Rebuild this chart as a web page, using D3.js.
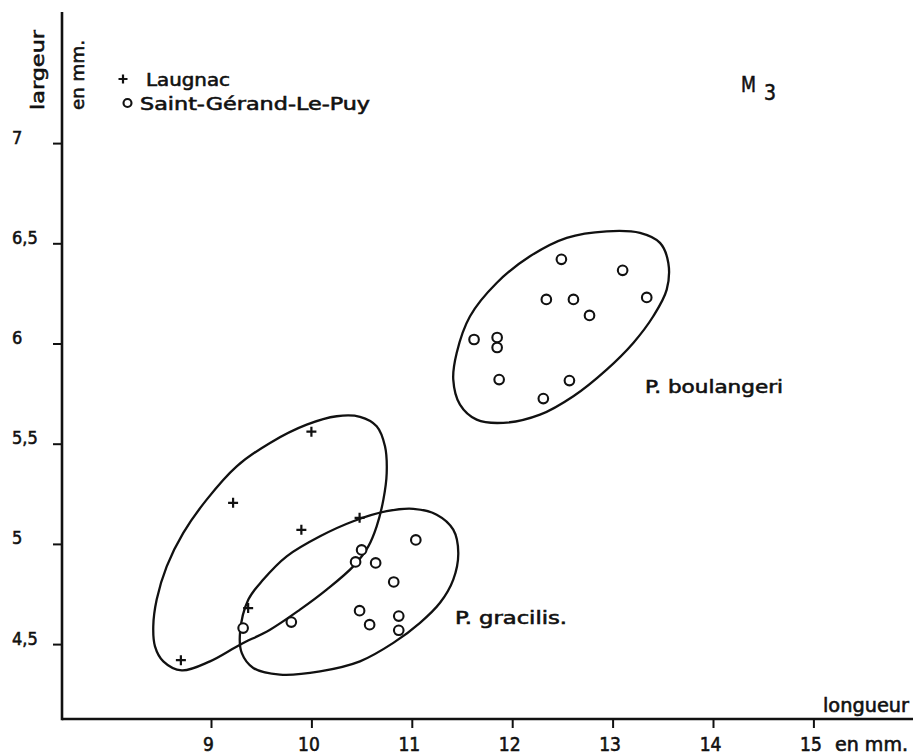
<!DOCTYPE html>
<html>
<head>
<meta charset="utf-8">
<script src="https://cdn.jsdelivr.net/npm/d3@7/dist/d3.min.js"></script>
<style>
  html, body { margin: 0; padding: 0; background: #fff; }
  svg { display: block; }
  text { font-family: "DejaVu Sans Condensed", "DejaVu Sans", sans-serif; fill: #111; stroke: #111; stroke-width: 0.55px; }
</style>
</head>
<body>
<svg id="chart" width="916" height="755"></svg>
<script>
// ---------- data ----------
const xTicks = [9, 10, 11, 12, 13, 14, 15];
const yTicks = [4.5, 5, 5.5, 6, 6.5, 7];
const xTickLabels = ["9", "10", "11", "12", "13", "14", "15"];
const yTickLabels = ["4,5", "5", "5,5", "6", "6,5", "7"];

// Laugnac (+) : [longueur, largeur]
const laugnac = [
  [10.00, 5.56], [9.22, 5.205], [9.90, 5.07], [10.48, 5.13], [9.37, 4.68], [8.70, 4.42]
];
// Saint-Gérand-Le-Puy (o) : P. gracilis group
const sgGracilis = [
  [10.50, 4.97], [10.44, 4.91], [10.64, 4.905], [11.04, 5.02], [10.82, 4.81],
  [10.48, 4.667], [10.58, 4.597], [10.87, 4.64], [10.87, 4.569], [9.80, 4.61], [9.32, 4.58]
];
// Saint-Gérand-Le-Puy (o) : P. boulangeri group
const sgBoulangeri = [
  [12.49, 6.42], [13.10, 6.365], [13.34, 6.23], [12.34, 6.22], [12.61, 6.22], [12.77, 6.14],
  [11.62, 6.02], [11.85, 6.03], [11.85, 5.98], [11.87, 5.82], [12.57, 5.815], [12.31, 5.725]
];

// hand-drawn group outlines (data units)
const outlineLaugnac = [
  [8.708,4.369],[8.525,4.414],[8.442,4.489],[8.425,4.589],[8.459,4.722],[8.559,4.888],
  [8.724,5.055],[8.957,5.221],[9.256,5.387],[9.588,5.504],[9.953,5.595],[10.252,5.637],
  [10.484,5.634],[10.650,5.587],[10.733,5.487],[10.750,5.354],[10.717,5.221],[10.650,5.088],
  [10.567,4.988],[10.417,4.888],[10.152,4.772],[9.886,4.672],[9.588,4.572],[9.289,4.497],
  [8.990,4.414]
];
const outlineGracilis = [
  [9.289,4.556],[9.372,4.722],[9.521,4.822],[9.754,4.938],[10.086,5.038],[10.417,5.113],
  [10.750,5.163],[11.015,5.175],[11.248,5.146],[11.413,5.071],[11.463,4.955],[11.413,4.822],
  [11.281,4.706],[11.082,4.606],[10.816,4.506],[10.484,4.414],[10.086,4.364],[9.687,4.348],
  [9.421,4.381],[9.306,4.456]
];
const outlineBoulangeri = [
  [11.447,5.953],[11.580,6.136],[11.845,6.302],[12.177,6.435],[12.543,6.527],[12.941,6.560],
  [13.273,6.552],[13.472,6.502],[13.555,6.402],[13.539,6.269],[13.405,6.136],[13.206,6.003],
  [12.941,5.870],[12.609,5.737],[12.277,5.645],[11.911,5.604],[11.646,5.620],[11.480,5.695],
  [11.413,5.820]
];

// ---------- drawing ----------
const svg = d3.select("#chart");
const x = d3.scaleLinear().domain([9, 15]).range([211, 813.4]);
const y = d3.scaleLinear().domain([4.5, 7]).range([644.1, 143.1]);
const axisX0 = 62, axisY0 = 719;
const FONT = '"DejaVu Sans Condensed", "DejaVu Sans", sans-serif';

// outlines
const line = d3.line().x(d => x(d[0])).y(d => y(d[1])).curve(d3.curveCatmullRomClosed.alpha(0.5));
[outlineLaugnac, outlineGracilis, outlineBoulangeri].forEach(o => {
  svg.append("path").attr("d", line(o))
    .attr("fill", "none").attr("stroke", "#111").attr("stroke-width", 2.3);
});

// axes
const xAxis = d3.axisBottom(x).tickValues(xTicks).tickFormat((d, i) => xTickLabels[i])
  .tickSize(9).tickPadding(10);
const gx = svg.append("g").attr("transform", `translate(0,${axisY0})`).call(xAxis);
gx.select(".domain").remove();
gx.selectAll(".tick line").attr("stroke", "#111").attr("stroke-width", 2);
gx.selectAll(".tick text").attr("font-size", 19).attr("fill", "#111")
  .attr("font-family", FONT)
  .attr("dy", "0.71em").attr("dx", -3);

const yAxis = d3.axisLeft(y).tickValues(yTicks).tickFormat((d, i) => yTickLabels[i])
  .tickSize(9);
const gy = svg.append("g").attr("transform", `translate(${axisX0},0)`).call(yAxis);
gy.select(".domain").remove();
gy.selectAll(".tick line").attr("stroke", "#111").attr("stroke-width", 2);
gy.selectAll(".tick text").attr("font-size", 18).attr("fill", "#111")
  .attr("font-family", FONT)
  .attr("text-anchor", "start").attr("x", 12 - axisX0).attr("dy", "0.0em");

svg.append("line").attr("x1", axisX0).attr("x2", 913).attr("y1", axisY0).attr("y2", axisY0)
  .attr("stroke", "#111").attr("stroke-width", 2.6);
svg.append("line").attr("x1", axisX0).attr("x2", axisX0).attr("y1", 12).attr("y2", axisY0 + 1.3)
  .attr("stroke", "#111").attr("stroke-width", 2.6);

// markers
function cross(g, cx, cy, s) {
  g.append("path").attr("d", `M${cx - s},${cy}H${cx + s}M${cx},${cy - s}V${cy + s}`)
    .attr("stroke", "#111").attr("stroke-width", 2.2).attr("fill", "none");
}
function ring(g, cx, cy, r) {
  g.append("circle").attr("cx", cx).attr("cy", cy).attr("r", r)
    .attr("fill", "#fff").attr("stroke", "#111").attr("stroke-width", 2.1);
}
const marks = svg.append("g");
sgGracilis.concat(sgBoulangeri).forEach(d => ring(marks, x(d[0]), y(d[1]), 4.8));
laugnac.forEach(d => cross(marks, x(d[0]), y(d[1]), 5));

// legend
cross(svg, 123, 79, 4.5);
svg.append("text").attr("x", 146).attr("y", 85.5).attr("font-size", 18)
  .attr("textLength", 84).attr("lengthAdjust", "spacingAndGlyphs").text("Laugnac");
ring(svg, 127.5, 103, 4);
svg.append("text").attr("x", 140).attr("y", 110).attr("font-size", 18)
  .attr("textLength", 230).attr("lengthAdjust", "spacingAndGlyphs").text("Saint-Gérand-Le-Puy");

// axis titles
svg.append("text").attr("transform", "translate(44,70) rotate(-90)").attr("text-anchor", "middle")
  .attr("font-size", 18).attr("textLength", 80).attr("lengthAdjust", "spacingAndGlyphs").text("largeur");
svg.append("text").attr("transform", "translate(84,75) rotate(-90)").attr("text-anchor", "middle")
  .attr("font-size", 18).attr("textLength", 70).attr("lengthAdjust", "spacingAndGlyphs").text("en mm.");
svg.append("text").attr("x", 823).attr("y", 712).attr("font-size", 19)
  .attr("textLength", 86).attr("lengthAdjust", "spacingAndGlyphs").text("longueur");
svg.append("text").attr("x", 835).attr("y", 751).attr("font-size", 19)
  .attr("textLength", 73).attr("lengthAdjust", "spacingAndGlyphs").text("en mm.");

// group labels
svg.append("text").attr("x", 645).attr("y", 393).attr("font-size", 18)
  .attr("textLength", 138).attr("lengthAdjust", "spacingAndGlyphs").text("P. boulangeri");
svg.append("text").attr("x", 455).attr("y", 624).attr("font-size", 18)
  .attr("textLength", 112).attr("lengthAdjust", "spacingAndGlyphs").text("P. gracilis.");

// M3
svg.append("text").attr("x", 741).attr("y", 92).attr("font-size", 22)
  .attr("textLength", 15).attr("lengthAdjust", "spacingAndGlyphs").text("M");
svg.append("text").attr("x", 764).attr("y", 100).attr("font-size", 22)
  .attr("textLength", 12).attr("lengthAdjust", "spacingAndGlyphs").text("3");
</script>
</body>
</html>
